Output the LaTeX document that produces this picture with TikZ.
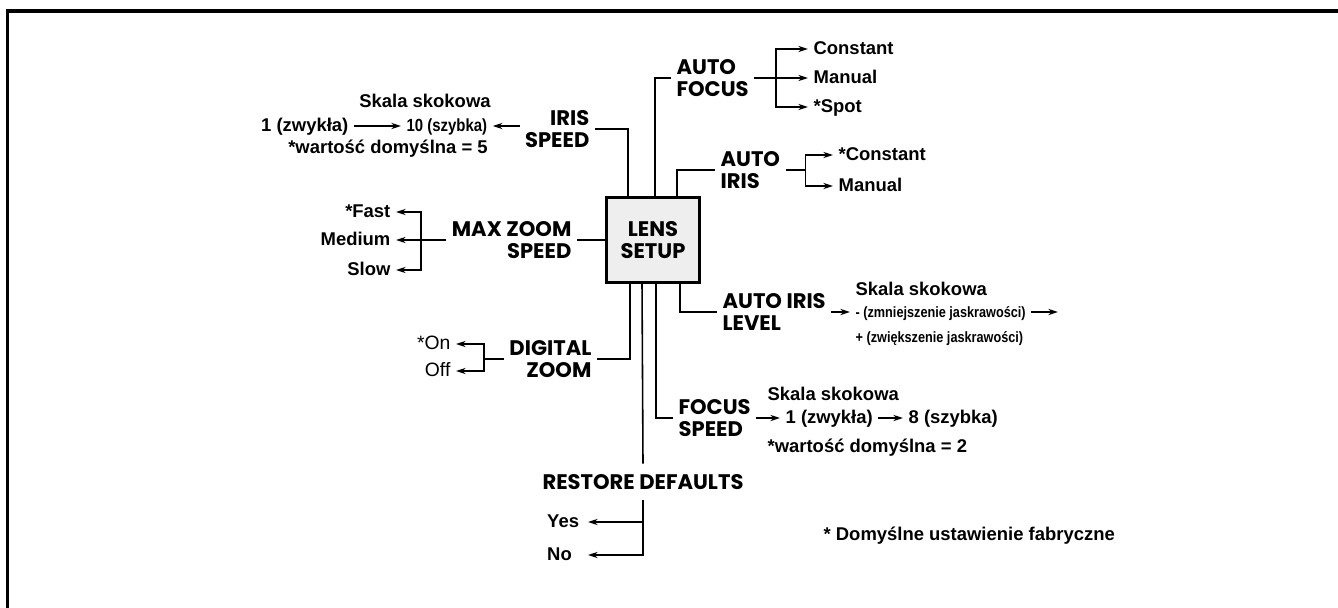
\documentclass[tikz,border=0pt]{standalone}
\usepackage{fontspec}
\setmainfont{Liberation Sans}
\newfontfamily\narrowfont[FakeStretch=0.85]{Liberation Sans}
\newfontfamily\headfont{Poppins}
\usetikzlibrary{arrows.meta}

\tikzset{
  menu/.style={font=\fontsize{12}{12.4}\selectfont\headfont\bfseries, inner xsep=3pt, inner ysep=0pt},
  choice/.style={font=\fontsize{10.5}{12}\selectfont\bfseries, inner xsep=3pt, inner ysep=1pt,
    text height=1.5ex, text depth=.25ex},
  light/.style={choice, font=\fontsize{11}{12}\selectfont},
  narrow/.style={choice, font=\fontsize{10}{12}\selectfont\narrowfont\bfseries},
  narrower/.style={choice, font=\fontsize{8.5}{10}\selectfont\narrowfont\bfseries},
  link/.style={line width=0.9pt},
  tip/.style={link, -{Stealth[length=5.5pt,width=3.5pt]}},
}

\begin{document}
\begin{tikzpicture}[x=0.02cm, y=-0.02cm]
        \useasboundingbox (0,0) rectangle (1338,608);
        % frame, only top and left edge
        \draw[line width=2pt] (7.5,608) -- (7.5,11) -- (1338,11);

        % the box in the middle
        \node[draw, line width=1.7pt, fill=gray!13, minimum width=53pt, minimum height=48pt,
              menu, align=center] (lens) at (653,240) {LENS\\SETUP};

        % where the feeds leave the box
        \foreach \n/\x in {ta/628, tb/655, tc/677, ba/630, bb/642, bc/656, bd/680} {
                \coordinate (\n) at (\x,0);
            }

        % menu entries
        \node[menu, align=right, anchor=east] (irisspd) at (595,129) {IRIS\\SPEED};
        \node[menu, align=left, anchor=west] (afocus) at (671,78) {AUTO\\FOCUS};
        \node[menu, align=left, anchor=west] (airis) at (715,170) {AUTO\\IRIS};
        \node[menu, align=right, anchor=east] (maxzoom) at (577,240) {MAX ZOOM\\SPEED};
        \node[menu, align=left, anchor=west] (airlev) at (717,312) {AUTO IRIS\\LEVEL};
        \node[menu, align=right, anchor=east] (dzoom) at (597,359) {DIGITAL\\ZOOM};
        \node[menu, align=left, anchor=west] (fspeed) at (673,418) {FOCUS\\SPEED};
        \node[menu, inner ysep=6pt] (restore) at (643,482) {RESTORE DEFAULTS};

        % feeds
        \draw[link] (lens.north -| ta) |- (irisspd.east);
        \draw[link] (lens.north -| tb) |- (afocus.west);
        \draw[link] (lens.north -| tc) |- (airis.west);
        \draw[link] (maxzoom.east) -- (lens.west);
        \draw[link] (lens.south -| bd) |- (airlev.west);
        \draw[link] (lens.south -| ba) |- (dzoom.east);
        \draw[link] (lens.south -| bc) |- (fspeed.west);
        \draw[link] (lens.south -| bb) -- (restore.north);

        % auto focus
        \node[choice, anchor=west] (afcon) at (808,49) {Constant};
        \node[choice, anchor=west] (afman) at (808,78) {Manual};
        \node[choice, anchor=west] (afspot) at (808,107) {*Spot};
        \draw[link] (afocus.east) -- ++(22,0) coordinate (afb);
        \foreach \o in {afcon, afman, afspot} {
                \draw[tip] (afb) |- (\o.west);
            }

        % auto iris
        \node[choice, anchor=west] (aicon) at (833,155) {*Constant};
        \node[choice, anchor=west] (aiman) at (833,186) {Manual};
        \draw[link] (airis.east) -- ++(20,0) coordinate (aib);
        \foreach \o in {aicon, aiman} {
                \draw[tip] (aib) |- (\o.west);
            }

        % iris speed
        \node[choice] (sk1) at (425,102) {Skala skokowa};
        \node[choice, anchor=east] (z1) at (354,126) {1 (zwykła)};
        \node[narrow, anchor=west] (s10) at (401,126) {10 (szybka)};
        \node[choice] (def5) at (388,148) {*wartość domyślna = 5};
        \draw[tip] (irisspd.west |- s10.east) -- (s10.east);
        \draw[tip] (z1.east) -- (s10.west);

        % max zoom speed
        \node[choice, anchor=east] (fast) at (396,212) {*Fast};
        \node[choice, anchor=east] (medium) at (396,240) {Medium};
        \node[choice, anchor=east] (slow) at (396,270) {Slow};
        \draw[link] (maxzoom.west) -- ++(-25,0) coordinate (mzb);
        \foreach \o in {fast, medium, slow} {
                \draw[tip] (mzb) |- (\o.east);
            }

        % digital zoom
        \node[light, anchor=east] (on) at (456,344) {*On};
        \node[light, anchor=east] (off) at (456,371) {Off};
        \draw[link] (dzoom.west) -- ++(-20,0) coordinate (dzb);
        \foreach \o in {on, off} {
                \draw[tip] (dzb) |- (\o.east);
            }

        % auto iris level
        \node[choice, anchor=west] (sk2) at (850,290) {Skala skokowa};
        \node[narrower, anchor=west] (minus) at (850,312) {- (zmniejszenie jaskrawości)};
        \node[narrower, anchor=west] (plus) at (850,337) {+ (zwiększenie jaskrawości)};
        \coordinate (minusend) at (1058,312);
        \draw[tip] (airlev.east) -- (minus.west);
        \draw[tip] (minus.east) -- (minusend);

        % focus speed
        \node[choice, anchor=west] (sk3) at (762,395) {Skala skokowa};
        \node[choice, anchor=west] (f1) at (780,418) {1 (zwykła)};
        \node[choice, anchor=west] (f8) at (903,418) {8 (szybka)};
        \node[choice, anchor=west] (def2) at (762,447) {*wartość domyślna = 2};
        \draw[tip] (fspeed.east) -- (f1.west);
        \draw[tip] (f1.east) -- (f8.west);

        % restore defaults
        \node[choice, anchor=east, text width=20pt, align=left] (yes) at (588,522) {Yes};
        \node[choice, anchor=east, text width=20pt, align=left] (no) at (588,555) {No};
        \foreach \o in {yes, no} {
                \draw[tip] (restore.south) |- (\o.east);
            }

        % footnote
        \node[choice, anchor=west] (note) at (818,535) {* Domyślne ustawienie fabryczne};
    \end{tikzpicture}
\end{document}
